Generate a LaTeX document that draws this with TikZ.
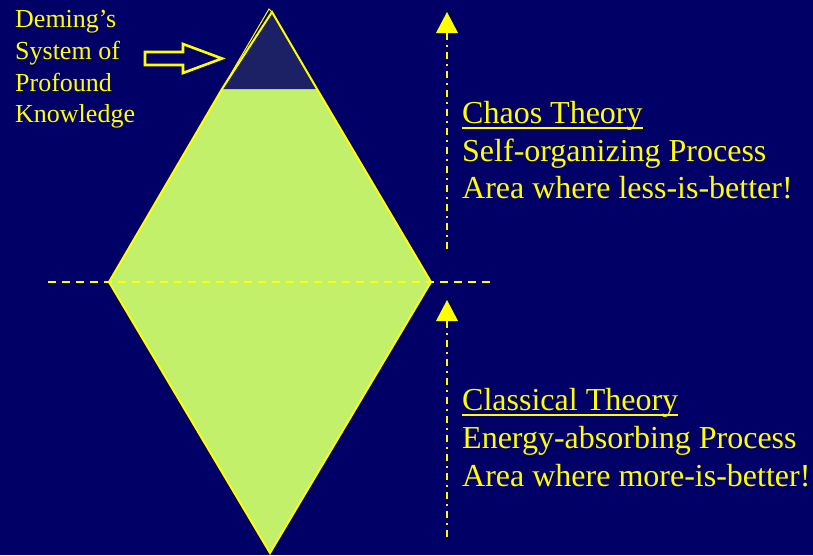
\documentclass[tikz,border=0pt]{standalone}
\usepackage{fontspec}
\setmainfont{Liberation Serif}
\usetikzlibrary{calc}
\definecolor{bgnavy}{RGB}{0,0,102}
\definecolor{lgreen}{RGB}{194,240,106}
\definecolor{dnavy}{RGB}{28,32,100}
\definecolor{yel}{RGB}{255,255,0}
\begin{document}
\begin{tikzpicture}[x=1pt,y=-1pt,
  lefttxt/.style={anchor=base west,inner sep=0pt,text=yel,font=\fontsize{26}{31}\selectfont},
  righttxt/.style={anchor=base west,inner sep=0pt,text=yel,font=\fontsize{32}{38}\selectfont},
  dashdot/.style={draw=yel,line width=2.4pt,dash pattern=on 7pt off 5pt on 2pt off 5pt},
  axisdash/.style={draw=yel,line width=2.2pt,dash pattern=on 8pt off 6pt},
  tri/.style={fill=yel,draw=none}]
\useasboundingbox (0,0) rectangle (813,555);
\fill[bgnavy] (0,0) rectangle (813,555);
% diamond vertices
\coordinate (top) at (271,10);
\coordinate (lft) at (109,282);
\coordinate (rgt) at (431,282);
\coordinate (bot) at (270,553);
\coordinate (tl) at (222,89);
\coordinate (tr) at (317,89);
\coordinate (apex) at (272,12);
\coordinate (apex2) at (269,9);
% green diamond
\fill[lgreen] (tl) -- (tr) -- (rgt) -- (bot) -- (lft) -- cycle;
\fill[dnavy] (apex) -- (tr) -- (tl) -- cycle;
\draw[yel,line width=2pt,line join=miter] (tl) -- (lft) -- (bot) -- (rgt) -- (tr) -- (apex) -- (tl);
\draw[yel,line width=1pt] (tl) -- (apex2) -- (apex);
% horizontal dashed axis
\coordinate (hs) at (48,282);
\coordinate (he) at (490,282);
\draw[axisdash] (hs) -- (he);
% vertical dash-dot lines with arrowheads
\coordinate (ua) at (447,12);
\coordinate (ub) at (447,33);
\coordinate (ue) at (447,250);
\fill[tri] (ua) -- ($(ub)+(11,0)$) -- ($(ub)+(-11,0)$) -- cycle;
\draw[dashdot] (ub) -- (ue);
\coordinate (la) at (447,300);
\coordinate (lb) at (447,321);
\coordinate (le) at (447,540);
\fill[tri] (la) -- ($(lb)+(11,0)$) -- ($(lb)+(-11,0)$) -- cycle;
\draw[dashdot] (lb) -- (le);
% block arrow
\draw[yel,line width=2.6pt,fill=bgnavy,line join=miter]
  (145,52) -- (183,52) -- (183,44) -- (222,58.5) -- (183,73) -- (183,65) -- (145,65) -- cycle;
% left text
\node[lefttxt] (d1) at (15,27) {Deming’s};
\node[lefttxt] (d2) at (15,59) {System of};
\node[lefttxt] (d3) at (15,91) {Profound};
\node[lefttxt] (d4) at (15,122) {Knowledge};
% right text upper
\node[righttxt] (c1) at (462,123) {Chaos Theory};
\draw[yel,line width=1.8pt] ([yshift=-5pt]c1.base west) -- ([yshift=-5pt]c1.base east);
\node[righttxt] (c2) at (462,161) {Self-organizing Process};
\node[righttxt] (c3) at (462,198) {Area where less-is-better!};
% right text lower
\node[righttxt] (k1) at (462,410) {Classical Theory};
\draw[yel,line width=1.8pt] ([yshift=-5pt]k1.base west) -- ([yshift=-5pt]k1.base east);
\node[righttxt] (k2) at (462,448) {Energy-absorbing Process};
\node[righttxt] (k3) at (462,486) {Area where more-is-better!};
\end{tikzpicture}
\end{document}
